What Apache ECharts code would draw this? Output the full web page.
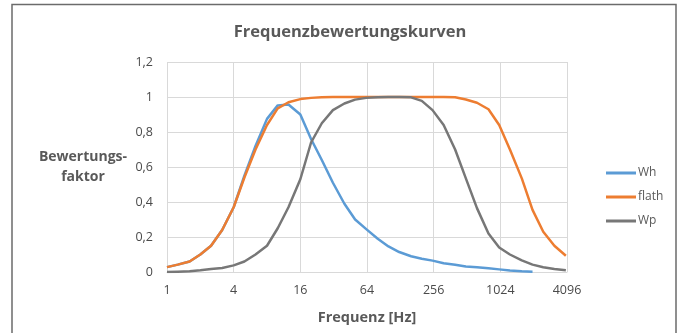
<!DOCTYPE html>
<html>
<head>
<meta charset="utf-8">
<script src="https://cdn.jsdelivr.net/npm/echarts@6/dist/echarts.min.js"></script>
<style>
  html, body { margin: 0; padding: 0; background: #fff; }
  #main { width: 681px; height: 333px; }
</style>
</head>
<body>
<div id="main"></div>
<script>
// Terzband-Mittenfrequenzen (Hz)
var freqs = [1, 1.25, 1.6, 2, 2.5, 3.15, 4, 5, 6.3, 8, 10, 12.5, 16, 20, 25, 31.5, 40, 50, 63, 80,
  100, 125, 160, 200, 250, 315, 400, 500, 630, 800, 1000, 1250, 1600, 2000, 2500, 3150, 4000];

var wh = [0.028, 0.042, 0.06, 0.10, 0.15, 0.24, 0.37, 0.55, 0.72, 0.875, 0.952, 0.957, 0.90, 0.76, 0.64,
  0.51, 0.39, 0.30, 0.245, 0.19, 0.146, 0.114, 0.09, 0.076, 0.065, 0.05, 0.042, 0.032, 0.027,
  0.021, 0.015, 0.008, 0.004, 0.002];

var flath = [0.028, 0.042, 0.06, 0.10, 0.15, 0.24, 0.37, 0.54, 0.70, 0.84, 0.935, 0.97, 0.988, 0.995, 0.998,
  1, 1, 1, 1, 1, 1, 1, 1, 1, 1, 1, 0.998, 0.986, 0.967, 0.93, 0.84, 0.70, 0.535, 0.355, 0.23,
  0.15, 0.093];

var wp = [0, 0.002, 0.004, 0.01, 0.017, 0.023, 0.038, 0.06, 0.10, 0.15, 0.25, 0.37, 0.53, 0.74, 0.85,
  0.925, 0.963, 0.985, 0.995, 0.998, 1, 1, 0.998, 0.978, 0.925, 0.84, 0.70, 0.535, 0.365, 0.22,
  0.14, 0.10, 0.066, 0.042, 0.027, 0.017, 0.01];

function pairs(vals) {
  return vals.map(function (v, i) { return [freqs[i], v]; });
}

var txt = '#595959';
var font = 'Open Sans';

var myChart = echarts.init(document.getElementById('main'));
myChart.setOption({
  animation: false,
  backgroundColor: '#fff',
  graphic: [{
    type: 'rect',
    shape: { x: 12, y: 4.5, width: 664, height: 340 },
    style: { fill: 'none', stroke: '#6b6b6b', lineWidth: 1.5 },
    silent: true
  }],
  title: {
    text: 'Frequenzbewertungskurven',
    left: 345,
    textAlign: 'center',
    top: 19,
    textStyle: { color: txt, fontSize: 16.5, fontWeight: 'bold', fontFamily: font }
  },
  legend: {
    orient: 'vertical',
    left: 601,
    top: 162,
    itemWidth: 30,
    itemHeight: 3,
    itemGap: 12,
    icon: 'rect',
    textStyle: { color: txt, fontSize: 12, fontFamily: font, padding: [0, 0, 0, -3] },
    data: ['Wh', 'flath', 'Wp']
  },
  grid: { left: 167, right: 114, top: 62, bottom: 61, containLabel: false },
  xAxis: {
    type: 'log',
    logBase: 2,
    min: 1,
    max: 4096,
    interval: 2,
    name: 'Frequenz [Hz]',
    nameLocation: 'middle',
    nameGap: 38,
    nameTextStyle: { color: txt, fontSize: 14.5, fontWeight: 'bold', fontFamily: font },
    axisLine: { lineStyle: { color: '#d9d9d9', width: 1 } },
    axisTick: { show: false },
    axisLabel: {
      color: '#4a4a4a', fontSize: 12.5, fontFamily: font, margin: 12,
      formatter: function (v) { return String(Math.round(v)); }
    },
    splitLine: { show: true, lineStyle: { color: '#d9d9d9', width: 1 } },
    minorSplitLine: { show: false }
  },
  yAxis: {
    type: 'value',
    min: 0,
    max: 1.2,
    interval: 0.2,
    name: 'Bewertungs-\nfaktor',
    nameLocation: 'middle',
    nameRotate: 0,
    nameGap: 84,
    nameTextStyle: { color: txt, fontSize: 14, fontWeight: 'bold', fontFamily: font, align: 'center', lineHeight: 20, padding: [0, 0, 6, 0] },
    axisLine: { show: false },
    axisTick: { show: false },
    axisLabel: {
      color: '#4a4a4a', fontSize: 12.5, fontFamily: font, margin: 14,
      formatter: function (v) { return String(Math.round(v * 10) / 10).replace('.', ','); }
    },
    splitLine: { lineStyle: { color: '#d9d9d9', width: 1 } }
  },
  series: [{
    name: 'Wh',
    type: 'line',
    showSymbol: false,
    symbol: 'none',
    data: pairs(wh),
    lineStyle: { color: '#5b9bd5', width: 2.5 },
    itemStyle: { color: '#5b9bd5' }
  }, {
    name: 'flath',
    type: 'line',
    showSymbol: false,
    symbol: 'none',
    data: pairs(flath),
    lineStyle: { color: '#ed7d31', width: 2.5 },
    itemStyle: { color: '#ed7d31' }
  }, {
    name: 'Wp',
    type: 'line',
    showSymbol: false,
    symbol: 'none',
    data: pairs(wp),
    lineStyle: { color: '#777777', width: 2.5 },
    itemStyle: { color: '#777777' }
  }]
});
</script>
</body>
</html>
